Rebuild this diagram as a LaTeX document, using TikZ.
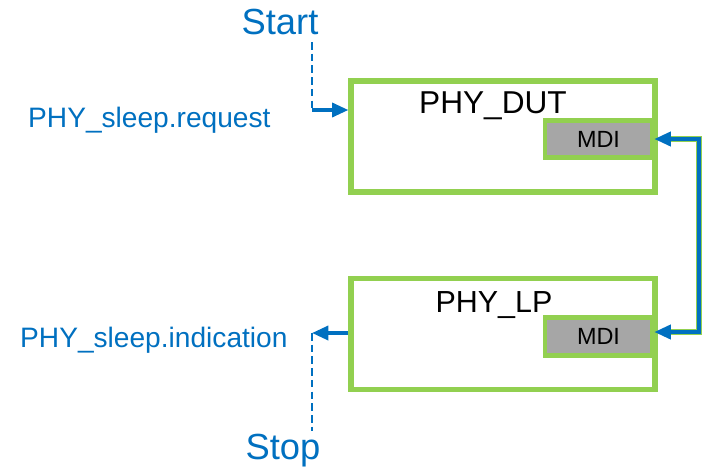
\documentclass[tikz,border=0pt]{standalone}
\usepackage{fontspec}
\setmainfont{Liberation Sans}
\usetikzlibrary{arrows.meta}

\definecolor{sigblue}{HTML}{0070C0}
\definecolor{boxgreen}{HTML}{92D050}
\definecolor{mdigray}{HTML}{A6A6A6}

\tikzset{
  phybox/.style={draw=boxgreen,line width=4.4pt,inner sep=0pt,
    minimum width=9.12cm,minimum height=3.33cm},
  mdibox/.style={draw=boxgreen,fill=mdigray,line width=4pt,inner sep=0pt,
    minimum width=3.21cm,minimum height=1.12cm,font=\fontsize{20}{24}\selectfont},
  tip/.style={-{Triangle[length=14pt,width=12pt]}},
  sig/.style={sigblue,line width=3pt,tip},
  flow/.style={sigblue,line width=2pt,dash pattern=on 6.5pt off 3.5pt},
  siglabel/.style={text=sigblue,inner sep=0pt,font=\fontsize{24}{28}\selectfont},
  endlabel/.style={text=sigblue,inner sep=0pt,font=\fontsize{31}{36}\selectfont},
  phylabel/.style={inner sep=0pt,anchor=base}
}

\begin{document}
\begin{tikzpicture}[x=0.03cm,y=-0.03cm]
    \useasboundingbox (0,0) rectangle (706,468);

    % the two PHYs
    \node[phybox] (dut) at (503,136.5) {};
    \node[phylabel,font=\fontsize{27}{32}\selectfont] (dutname) at (493,113) {PHY\_DUT};
    \node[mdibox] (mdia) at (598.5,139) {MDI};
    \node[phybox] (lp) at (503,334) {};
    \node[phylabel,font=\fontsize{26}{31}\selectfont] (lpname) at (494,312) {PHY\_LP};
    \node[mdibox] (mdib) at (598.5,336.5) {MDI};

    % start side
    \node[endlabel] (start) at (280,22) {Start};
    \coordinate (startfoot) at (312,42);
    \coordinate (startcorner) at (312,110);
    \node[siglabel,anchor=base west] (req) at (28,127) {PHY\_sleep.request};
    \draw[flow] (startfoot) -- (startcorner);
    \draw[sig] (startcorner) -- (dut.west |- startcorner);

    % stop side
    \coordinate (stopcorner) at (312,333);
    \coordinate (stopfoot) at (312,431);
    \node[siglabel,anchor=base west] (ind) at (20,347) {PHY\_sleep.indication};
    \node[endlabel,anchor=base] (stop) at (283,459) {Stop};
    \draw[sig] (lp.west |- stopcorner) -- (stopcorner);
    \draw[flow] (stopcorner) -- (stopfoot);

    % link between the MDIs
    \coordinate (linkr) at (699,0);
    \draw[boxgreen,line width=5pt] ([xshift=10pt]mdia.east) -| (linkr |- 0,332) -- ([xshift=10pt]mdib.east |- 0,332);
    \draw[sig,{Triangle[length=14pt,width=12pt]}-{Triangle[length=14pt,width=12pt]}]
      (mdia.east) -| (linkr |- 0,332) -- (mdib.east |- 0,332);
\end{tikzpicture}
\end{document}
